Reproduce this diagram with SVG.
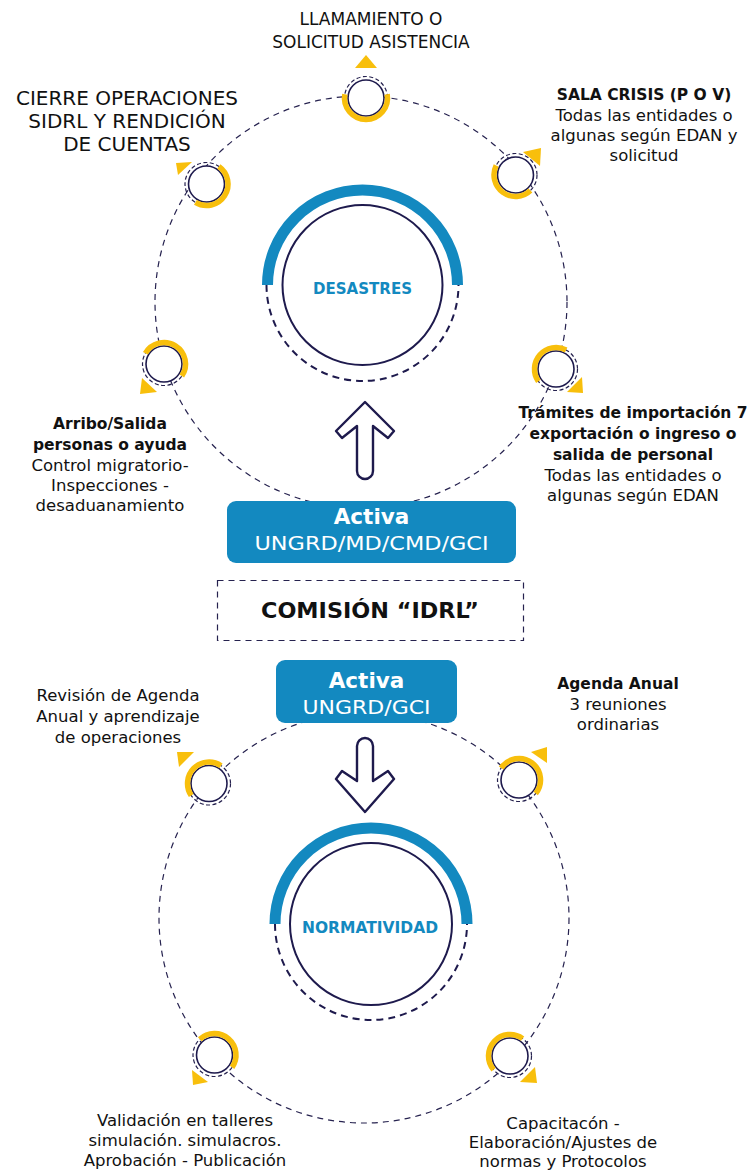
<svg xmlns="http://www.w3.org/2000/svg" width="752" height="1170" viewBox="0 0 752 1170">
<defs>
<style>
.orbit{fill:none;stroke:#26224f;stroke-width:1.2;stroke-dasharray:6 5}
.ring{fill:none;stroke:#26224f;stroke-width:1.2;stroke-dasharray:4 2.5}
.inner{fill:#fff;stroke:#1e1a4d;stroke-width:1.6}
.yel{fill:none;stroke:#f8bf0c;stroke-width:5.5}
.tri{fill:#f8bf0c}
.hub{fill:#fff;stroke:#1e1a4d;stroke-width:2}
.arc{fill:none;stroke:#1389c0;stroke-width:11}
.hubdash{fill:none;stroke:#1e1a4d;stroke-width:2;stroke-dasharray:7 5}
.arrow{fill:#fff;stroke:#1e1a4d;stroke-width:2.4;stroke-linejoin:round}
.t{font-family:"DejaVu Sans","Liberation Sans",sans-serif;font-size:16.5px;fill:#111;text-anchor:middle}
.b{font-weight:700;font-size:15.5px}
.top{font-size:17px}
.cap{font-size:20px}
.com{font-weight:700;font-size:22px}
.hubt{font-family:"DejaVu Sans","Liberation Sans",sans-serif;font-weight:700;font-size:15px;fill:#1389c0;text-anchor:middle}
.box{fill:#1389c0}
.bt{font-family:"DejaVu Sans","Liberation Sans",sans-serif;fill:#fff;text-anchor:middle}
</style>
</defs>
<rect width="752" height="1170" fill="#fff"/>

<g id="connectors">
<circle class="orbit" cx="361" cy="302" r="206"/>
<circle class="orbit" cx="364" cy="918" r="205"/>
<path id="arrow-up" class="arrow" d="M365,402 L336,431 L342,438 L357,426 L357,471 A8,8 0 0 0 373,471 L373,426 L388,438 L394,431 Z"/>
<path id="arrow-down" class="arrow" d="M357,746 A8,8 0 0 1 373,746 L373,781 L388,771 L394,779 L365,812 L336,779 L342,771 L357,781 Z"/>
</g>

<g id="hub-desastres">
<circle class="hub" cx="362.5" cy="285" r="80"/>
<path class="arc" d="M267.5,285 A95,95 0 0 1 457.5,285"/>
<path class="hubdash" d="M266.5,285 A96,96 0 0 0 458.5,285"/>
<text class="hubt" x="362.5" y="294" textLength="99" lengthAdjust="spacingAndGlyphs">DESASTRES</text>
</g>

<g id="hub-normatividad">
<circle class="hub" cx="371" cy="924" r="81"/>
<path class="arc" d="M275,924 A96,96 0 0 1 467,924"/>
<path class="hubdash" d="M275,924 A96,96 0 0 0 467,924"/>
<text class="hubt" x="370" y="933" textLength="136" lengthAdjust="spacingAndGlyphs">NORMATIVIDAD</text>
</g>

<g id="node-llamamiento">
<circle class="ring" cx="366" cy="98" r="21.5"/>
<circle class="inner" cx="366" cy="98" r="18"/>
<path class="yel" d="M387.17,94.27 A21.5,21.5 0 1 1 344.83,94.27"/>
<polygon class="tri" points="355,68 377,68 366,55"/>
<text class="t top" x="371" y="25">LLAMAMIENTO O</text>
<text class="t top" x="371" y="48">SOLICITUD ASISTENCIA</text>
</g>

<g id="node-sala-crisis">
<circle class="ring" cx="515.5" cy="175" r="21.5"/>
<circle class="inner" cx="515.5" cy="175" r="18"/>
<path class="yel" d="M530.44,190.47 A21.5,21.5 0 0 1 496.18,165.58"/>
<polygon class="tri" points="523,152 541,148 540,166"/>
<text class="t b" x="644" y="100">SALA CRISIS (P O V)</text>
<text class="t" x="644" y="121">Todas las entidades o</text>
<text class="t" x="644" y="141">algunas según EDAN y</text>
<text class="t" x="644" y="161">solicitud</text>
</g>

<g id="node-cierre">
<circle class="ring" cx="206.5" cy="184" r="21.5"/>
<circle class="inner" cx="206.5" cy="184" r="18"/>
<path class="yel" d="M218.84,166.39 A21.5,21.5 0 0 1 195.43,202.43"/>
<polygon class="tri" points="176,163 192,162 178,175"/>
<text class="t cap" x="127" y="105">CIERRE OPERACIONES</text>
<text class="t cap" x="127" y="128">SIDRL Y RENDICIÓN</text>
<text class="t cap" x="127" y="151">DE CUENTAS</text>
</g>

<g id="node-arribo">
<circle class="ring" cx="164" cy="364" r="21.5"/>
<circle class="inner" cx="164" cy="364" r="18"/>
<path class="yel" d="M145.38,353.25 A21.5,21.5 0 1 1 181.82,376.02"/>
<polygon class="tri" points="142,378 157,392 140,394"/>
<text class="t b" x="110" y="429">Arribo/Salida</text>
<text class="t b" x="110" y="450">personas o ayuda</text>
<text class="t" x="110" y="471">Control migratorio-</text>
<text class="t" x="110" y="491">Inspecciones -</text>
<text class="t" x="110" y="511">desaduanamiento</text>
</g>

<g id="node-tramites">
<circle class="ring" cx="556" cy="369" r="21.5"/>
<circle class="inner" cx="556" cy="369" r="18"/>
<path class="yel" d="M538.39,381.33 A21.5,21.5 0 0 1 566.09,350.02"/>
<polygon class="tri" points="582,377 583,393 567,392"/>
<text class="t b" x="633" y="418">Trámites de importación 7</text>
<text class="t b" x="633" y="439">exportación o ingreso o</text>
<text class="t b" x="633" y="460">salida de personal</text>
<text class="t" x="633" y="481">Todas las entidades o</text>
<text class="t" x="633" y="501">algunas según EDAN</text>
</g>

<g id="box-activa-1">
<rect class="box" x="227" y="501" width="289" height="62" rx="9"/>
<text class="bt" x="371.5" y="524" font-size="21.5" font-weight="700">Activa</text>
<text class="bt" x="371.5" y="550" font-size="19" textLength="234" lengthAdjust="spacingAndGlyphs">UNGRD/MD/CMD/GCI</text>
</g>

<g id="comision">
<rect x="217.5" y="580.5" width="306" height="60" fill="none" stroke="#26224f" stroke-width="1.2" stroke-dasharray="6 5"/>
<text class="t com" x="370" y="618" textLength="218" lengthAdjust="spacingAndGlyphs">COMISIÓN “IDRL”</text>
</g>

<g id="box-activa-2">
<rect class="box" x="276" y="660" width="181" height="63" rx="9"/>
<text class="bt" x="366.5" y="688" font-size="21.5" font-weight="700">Activa</text>
<text class="bt" x="366.5" y="714" font-size="19" textLength="128" lengthAdjust="spacingAndGlyphs">UNGRD/GCI</text>
</g>

<g id="node-revision">
<circle class="ring" cx="209" cy="783.5" r="21.5"/>
<circle class="inner" cx="209" cy="783.5" r="18"/>
<path class="yel" d="M191.18,795.52 A21.5,21.5 0 0 1 221.02,765.68"/>
<polygon class="tri" points="177,752 194,752 179,767"/>
<text class="t" x="118" y="701">Revisión de Agenda</text>
<text class="t" x="118" y="722">Anual y aprendizaje</text>
<text class="t" x="118" y="743">de operaciones</text>
</g>

<g id="node-agenda">
<circle class="ring" cx="519" cy="780" r="21.5"/>
<circle class="inner" cx="519" cy="780" r="18"/>
<path class="yel" d="M501.18,767.98 A21.5,21.5 0 1 1 535.71,793.53"/>
<polygon class="tri" points="531,752 547,747 547,763"/>
<text class="t b" x="618" y="689">Agenda Anual</text>
<text class="t" x="618" y="710">3 reuniones</text>
<text class="t" x="618" y="730">ordinarias</text>
</g>

<g id="node-validacion">
<circle class="ring" cx="214.5" cy="1055" r="21.5"/>
<circle class="inner" cx="214.5" cy="1055" r="18"/>
<path class="yel" d="M199.84,1039.28 A21.5,21.5 0 0 1 232.11,1067.33"/>
<polygon class="tri" points="192,1070 208,1082 193,1085"/>
<text class="t" x="185" y="1126">Validación en talleres</text>
<text class="t" x="185" y="1146">simulación. simulacros.</text>
<text class="t" x="185" y="1166">Aprobación - Publicación</text>
</g>

<g id="node-capacitacion">
<circle class="ring" cx="510" cy="1056" r="21.5"/>
<circle class="inner" cx="510" cy="1056" r="18"/>
<path class="yel" d="M493.53,1069.82 A21.5,21.5 0 0 1 522.64,1038.61"/>
<polygon class="tri" points="535,1067 537,1083 520,1082"/>
<text class="t" x="563" y="1129">Capacitacón -</text>
<text class="t" x="563" y="1148">Elaboración/Ajustes de</text>
<text class="t" x="563" y="1167">normas y Protocolos</text>
</g>
</svg>
